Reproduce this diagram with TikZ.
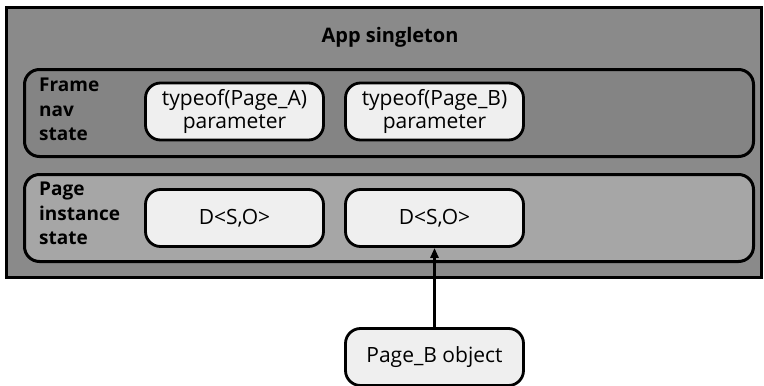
\documentclass[tikz,border=0pt]{standalone}
\usepackage{fontspec}
\setmainfont{Open Sans}
\usetikzlibrary{arrows.meta}
\definecolor{outergray}{HTML}{8A8A8A}
\definecolor{navgray}{HTML}{848484}
\definecolor{pagegray}{HTML}{A6A6A6}
\definecolor{boxfill}{HTML}{EFEFEF}
\begin{document}
\begin{tikzpicture}[x=1pt,y=-1pt,
  band/.style={draw=black,line width=3pt,rounded corners=15pt},
  itembox/.style={draw=black,line width=2.8pt,rounded corners=15pt,fill=boxfill,
    minimum width=178pt,minimum height=57pt,align=center,font=\fontsize{21}{23.5}\selectfont,inner sep=0pt},
  lbl/.style={anchor=north west,align=left,font=\bfseries\fontsize{19}{24.5}\selectfont,inner sep=0pt},
  conn/.style={-{Triangle[length=10pt,width=8pt]},line width=2.8pt}]
\useasboundingbox (0,0) rectangle (764,386);
\fill[white] (0,0) rectangle (764,386);
% outer app singleton
\node[draw=black,line width=3pt,fill=outergray,minimum width=755pt,minimum height=270pt,anchor=north west,inner sep=0pt] (app) at (5,6) {};
\node[font=\bfseries\fontsize{20}{24}\selectfont,inner sep=0pt] (apptitle) at (390,37) {App singleton};
% bands
\node[band,fill=navgray,minimum width=729pt,minimum height=87pt,anchor=north west,inner sep=0pt] (nav) at (23,68) {};
\node[band,fill=pagegray,minimum width=729pt,minimum height=87pt,anchor=north west,inner sep=0pt] (page) at (23,173) {};
\node[lbl] (navlbl) at (39,78) {Frame\\nav\\state};
\node[lbl] (pagelbl) at (39,182) {Page\\instance\\state};
% item boxes
\node[itembox] (ta) at (234.5,111.5) {typeof(Page\_A)\\parameter};
\node[itembox] (tb) at (434.5,111.5) {typeof(Page\_B)\\parameter};
\node[itembox] (da) at (234.5,218) {D<S,O>};
\node[itembox] (db) at (434.5,218) {D<S,O>};
\node[itembox] (pb) at (434.5,357) {Page\_B object};
\draw[conn] (pb.north) -- (db.south);
\end{tikzpicture}
\end{document}
